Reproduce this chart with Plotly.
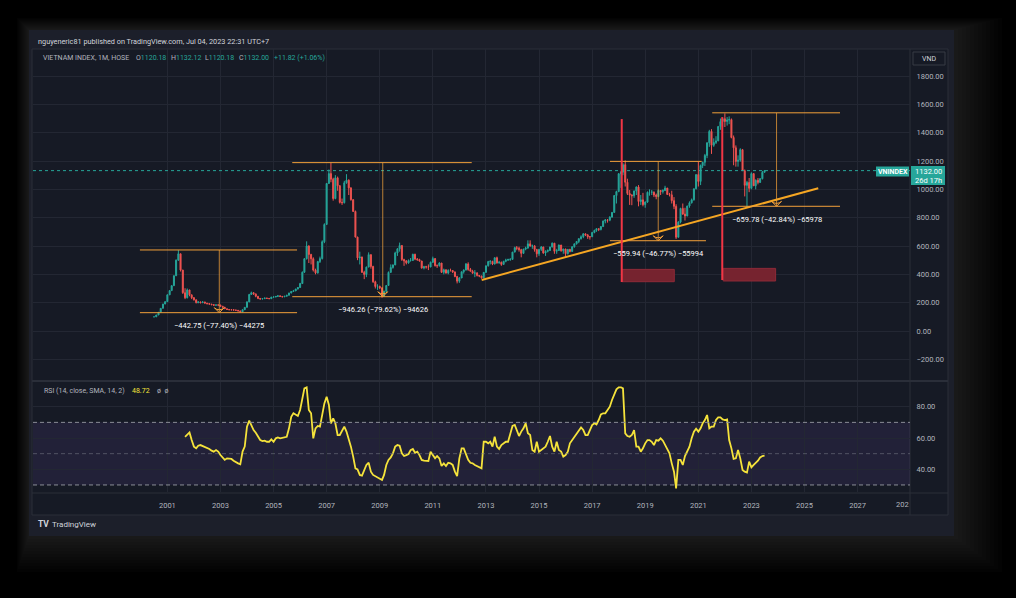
import plotly.graph_objects as go
import pandas as pd

# ---------------- DATA (monthly VN-Index, Jul 2000 .. Jul 2023) ----------------
FIRST_MONTH = "2000-07-01"
FIRST_OPEN = 100.0

CLOSE = [
    100, 113, 132, 160, 190, 207,                                         # 2000 (Jul-Dec)
    255, 285, 320, 390, 500, 545, 430, 270, 235, 290, 255, 235,           # 2001
    220, 200, 205, 200, 205, 197, 193, 190, 186, 182, 184, 183,           # 2002
    175, 168, 157, 152, 150, 150, 148, 146, 142, 135, 150, 167,           # 2003
    205, 258, 270, 262, 245, 230, 226, 228, 232, 230, 228, 239,           # 2004
    240, 244, 248, 244, 241, 245, 252, 268, 279, 283, 296, 307,           # 2005
    335, 415, 510, 600, 540, 510, 430, 410, 490, 511, 630, 752,           # 2006
    1041, 1111, 1071, 935, 1081, 1025, 908, 906, 1046, 1065, 1010, 927,   # 2007
    844, 663, 516, 522, 414, 399, 451, 539, 456, 347, 314, 315,           # 2008
    304, 245, 280, 321, 414, 448, 466, 551, 580, 603, 504, 495,           # 2009
    481, 497, 498, 542, 508, 504, 494, 445, 454, 452, 452, 485,           # 2010
    511, 461, 461, 480, 414, 432, 409, 428, 427, 417, 384, 352,           # 2011
    374, 418, 430, 473, 434, 422, 408, 410, 392, 388, 375, 414,           # 2012
    460, 490, 492, 473, 517, 481, 485, 470, 492, 500, 505, 505,           # 2013
    557, 588, 584, 574, 548, 578, 586, 615, 600, 601, 575, 545,           # 2014
    576, 593, 551, 562, 569, 593, 620, 563, 568, 607, 566, 579,           # 2015
    546, 576, 561, 595, 615, 632, 652, 665, 686, 677, 665, 665,           # 2016
    695, 710, 722, 717, 737, 776, 784, 782, 804, 837, 956, 984,           # 2017
    1110, 1121, 1174, 1050, 971, 960, 955, 989, 1017, 914, 926, 892,      # 2018
    910, 979, 980, 980, 960, 949, 992, 984, 991, 1009, 964, 961,          # 2019
    920, 880, 662, 769, 865, 825, 812, 882, 905, 926, 1004, 1104,         # 2020
    1056, 1168, 1191, 1239, 1329, 1409, 1311, 1331, 1342, 1444, 1478, 1498,  # 2021
    1479, 1490, 1492, 1366, 1293, 1197, 1206, 1280, 1132, 1028, 1049, 1007,  # 2022
    1111, 1025, 1064, 1049, 1075, 1120.18, 1132.00,                        # 2023 (Jan-Jul)
]
HIGH = [
    100, 114, 133, 161, 192, 210,
    258, 287, 322, 392, 505, 571, 545, 432, 302, 300, 290, 257,
    240, 222, 210, 208, 210, 206, 198, 194, 191, 188, 187, 187,
    185, 176, 169, 158, 155, 154, 152, 150, 148, 143, 152, 168,
    210, 262, 278, 275, 264, 247, 233, 232, 236, 235, 233, 241,
    244, 247, 252, 250, 246, 248, 255, 270, 282, 290, 298, 310,
    340, 420, 515, 633, 605, 545, 520, 440, 495, 525, 640, 760,
    1045, 1140, 1188, 1082, 1100, 1090, 1030, 935, 1060, 1107, 1070, 1015,
    930, 850, 665, 560, 525, 425, 455, 555, 540, 460, 355, 330,
    320, 310, 285, 325, 420, 470, 470, 560, 585, 624, 600, 510,
    500, 505, 515, 545, 545, 515, 510, 495, 460, 460, 470, 490,
    525, 515, 470, 485, 480, 440, 435, 435, 440, 430, 420, 390,
    380, 420, 435, 480, 485, 445, 432, 430, 415, 395, 390, 415,
    462, 495, 500, 495, 520, 525, 495, 490, 495, 510, 510, 515,
    558, 595, 600, 595, 580, 580, 595, 640, 640, 610, 605, 580,
    580, 600, 595, 570, 575, 595, 625, 620, 580, 610, 605, 580,
    580, 578, 580, 598, 618, 635, 655, 675, 690, 688, 685, 670,
    700, 715, 725, 725, 740, 780, 790, 790, 810, 840, 960, 990,
    1115, 1130, 1185, 1204, 1075, 995, 965, 990, 1020, 1030, 960, 975,
    915, 985, 1000, 995, 985, 970, 1000, 995, 1000, 1025, 1010, 975,
    990, 945, 895, 775, 870, 900, 870, 885, 915, 935, 1005, 1105,
    1196, 1175, 1195, 1250, 1330, 1420, 1425, 1360, 1375, 1445, 1500, 1505,
    1536, 1510, 1515, 1500, 1380, 1310, 1240, 1290, 1285, 1140, 1060, 1080,
    1120, 1110, 1070, 1080, 1080, 1130, 1132.12,
]
LOW = [
    100, 100, 113, 132, 160, 190,
    207, 255, 285, 320, 390, 495, 420, 262, 225, 230, 245, 225,
    215, 195, 196, 195, 197, 193, 188, 186, 182, 178, 180, 179,
    172, 165, 155, 148, 147, 146, 144, 143, 138, 131, 134, 149,
    166, 204, 255, 255, 238, 225, 222, 224, 227, 226, 225, 226,
    236, 238, 243, 240, 238, 240, 244, 251, 266, 277, 282, 294,
    305, 333, 410, 505, 480, 470, 420, 400, 405, 480, 505, 620,
    752, 1040, 1050, 920, 930, 990, 900, 890, 900, 1040, 960, 920,
    840, 660, 500, 470, 410, 366, 380, 450, 440, 340, 300, 290,
    296, 235, 242, 275, 320, 410, 440, 465, 530, 560, 495, 460,
    470, 475, 490, 495, 500, 495, 490, 440, 435, 440, 430, 450,
    480, 455, 445, 455, 410, 400, 405, 400, 420, 410, 380, 336,
    340, 374, 405, 428, 425, 420, 405, 380, 385, 380, 370, 375,
    410, 455, 470, 465, 470, 475, 475, 460, 468, 485, 495, 495,
    505, 555, 570, 560, 520, 545, 570, 580, 595, 580, 560, 520,
    530, 565, 545, 530, 555, 565, 590, 545, 545, 565, 560, 545,
    520, 540, 555, 560, 588, 610, 620, 645, 655, 670, 650, 645,
    665, 690, 700, 705, 710, 735, 760, 765, 775, 800, 835, 900,
    980, 1010, 1100, 1020, 960, 890, 888, 940, 960, 880, 890, 880,
    870, 905, 955, 960, 945, 930, 945, 960, 970, 990, 960, 950,
    900, 860, 649, 660, 760, 820, 780, 810, 870, 900, 920, 1000,
    1020, 1030, 1150, 1165, 1220, 1300, 1250, 1300, 1320, 1340, 1420, 1440,
    1440, 1450, 1460, 1360, 1170, 1160, 1160, 1195, 1130, 950, 873, 980,
    1000, 1025, 1000, 1035, 1045, 1070, 1120.18,
]
RSI_FIRST_INDEX = 14
RSI = [
    60.8, 62.0, 63.6, 58.7,
    54.5, 53.4, 55.1, 55.5, 54.9, 54.0, 53.4, 53.0, 51.9, 51.3, 52.3, 51.3,
    49.1, 47.6, 46.0, 47.0, 46.8, 46.6, 45.5, 44.9, 43.8, 43.2, 51.3, 54.5,
    67.3, 71.1, 68.3, 65.1, 63.4, 60.8, 58.7, 58.0, 58.3, 57.6, 57.6, 59.1,
    57.6, 59.8, 60.4, 59.8, 60.2, 60.4, 60.8, 66.2, 73.6, 75.8, 74.7, 74.1,
    77.9, 85.3, 91.7, 92.4, 77.9, 75.8, 59.8, 66.2, 67.7, 67.3, 75.8, 82.1,
    86.4, 81.1, 69.4, 72.6, 69.4, 61.9, 61.9, 65.1, 67.3, 64.1, 59.8, 54.5,
    48.1, 40.6, 40.0, 36.4, 36.0, 39.1, 42.8, 44.2, 38.5, 36.4, 35.7, 34.9,
    34.2, 33.2, 36.4, 42.8, 46.0, 47.6, 50.2, 54.5, 55.5, 55.1, 50.2, 48.5,
    49.1, 49.8, 52.3, 53.0, 50.6, 51.3, 49.1, 46.0, 45.5, 45.5, 45.3, 51.3,
    49.1, 47.0, 48.5, 47.0, 42.1, 43.8, 42.1, 44.2, 43.8, 42.8, 38.5, 35.7,
    47.0, 53.4, 53.4, 49.1, 46.0, 44.2, 43.8, 42.8, 42.1, 41.2, 40.6, 57.6,
    57.6, 56.6, 57.6, 54.5, 60.8, 54.5, 53.0, 55.5, 56.6, 57.6, 57.6, 63.0,
    67.7, 68.3, 64.7, 61.3, 64.1, 66.2, 69.4, 63.0, 61.9, 52.3, 51.3, 57.6,
    51.3, 52.3, 53.4, 54.5, 57.6, 61.3, 54.5, 51.3, 57.6, 52.3, 51.3, 48.1,
    49.1, 51.3, 56.6, 58.7, 60.8, 63.0, 65.1, 66.8, 65.1, 61.9, 61.9, 65.1,
    68.3, 69.4, 68.7, 71.5, 75.1, 75.8, 75.8, 77.9, 80.0, 84.3, 88.5, 91.1,
    92.4, 92.4, 91.7, 63.0, 61.3, 60.8, 61.9, 65.1, 54.5, 54.5, 51.3, 53.4,
    56.6, 58.7, 58.7, 57.6, 55.5, 58.7, 58.3, 59.8, 58.3, 55.5, 53.4, 50.2,
    43.8, 38.5, 27.8, 46.0, 46.0, 42.8, 48.5, 51.3, 54.5, 59.8, 64.1, 66.0,
    64.1, 66.2, 69.4, 71.5, 74.7, 66.2, 67.3, 67.3, 71.5, 73.2, 73.2, 71.9,
    71.5, 71.9, 58.7, 53.4, 46.6, 47.0, 52.3, 47.0, 39.6, 38.5, 37.9, 44.9,
    41.2, 42.8, 43.8, 45.5, 47.6, 48.5, 48.72,
]
LAST_PRICE = 1132.00
YEAR_TICKS = ["2001-01-01", "2003-01-01", "2005-01-01", "2007-01-01", "2009-01-01",
              "2011-01-01", "2013-01-01", "2015-01-01", "2017-01-01", "2019-01-01",
              "2021-01-01", "2023-01-01", "2025-01-01", "2027-01-01"]
YEAR_LABELS = ["2001", "2003", "2005", "2007", "2009", "2011", "2013", "2015", "2017",
               "2019", "2021", "2023", "2025", "2027"]

# Price-range drawings (time anchors / price anchors / label)
MEASURES = [
    dict(t0="1999-12-20", t1="2005-11-20", tv="2002-12-16", top=572.03, bottom=129.28,
         b1="2005-11-20", label="\u2212442.75 (\u221277.40%) \u221244275"),
    dict(t0="2005-09-15", t1="2012-06-19", tv="2009-02-11", top=1188.47, bottom=242.21,
         b1="2012-06-19", label="\u2212946.26 (\u221279.62%) \u221294626"),
    dict(t0="2017-09-03", t1="2021-02-16", tv="2019-06-29", top=1197.22, bottom=637.28,
         b1="2021-04-16", label="\u2212559.94 (\u221246.77%) \u221255994"),
    dict(t0="2021-07-11", t1="2026-05-04", tv="2023-12-13", top=1540.10, bottom=880.32,
         b1="2026-05-04", label="\u2212659.78 (\u221242.84%) \u221265978"),
]
TREND = dict(t0="2012-11-03", p0=360.0, t1="2025-07-09", p1=1007.3)
RED_LINES = [dict(t="2018-02-12", p0=346, p1=1496), dict(t="2021-11-26", p0=360, p1=1510)]
RED_BOXES = [dict(t0="2018-02-12", t1="2020-02-05", p0=348, p1=435),
             dict(t0="2021-12-09", t1="2023-11-30", p0=353, p1=442)]

# ---------------- FIGURE ----------------
dates = pd.date_range(FIRST_MONTH, periods=len(CLOSE), freq="MS")
OPEN = [FIRST_OPEN] + CLOSE[:-1]
rsi_dates = dates[RSI_FIRST_INDEX:]

W, H = 1016, 598
PL, PR, PT, PB = 33, 910, 49, 492   # plot area in pixels


def px(x):
    return (x - PL) / (PR - PL)


def py(y):
    return (PB - y) / (PB - PT)


FONT = "Roboto"
TEAL = "#26a69a"
RED = "#ef5350"
ORANGE = "#f2a03a"
GRID = "#232733"
TXT = "#b2b5be"

fig = go.Figure()
fig.add_trace(go.Candlestick(
    x=dates, open=OPEN, high=HIGH, low=LOW, close=CLOSE,
    increasing=dict(line=dict(color=TEAL, width=1), fillcolor=TEAL),
    decreasing=dict(line=dict(color=RED, width=1), fillcolor=RED),
    xaxis="x", yaxis="y", showlegend=False, hoverinfo="skip"))

fig.add_trace(go.Scatter(
    x=rsi_dates, y=RSI, mode="lines", line=dict(color="#f5e33b", width=1.8),
    xaxis="x2", yaxis="y2", showlegend=False, hoverinfo="skip"))

# trend line
fig.add_trace(go.Scatter(
    x=[TREND["t0"], TREND["t1"]], y=[TREND["p0"], TREND["p1"]], mode="lines",
    line=dict(color="#f5a623", width=2), xaxis="x", yaxis="y",
    showlegend=False, hoverinfo="skip"))

# arrow heads of measures
fig.add_trace(go.Scatter(
    x=[m["tv"] for m in MEASURES], y=[m["bottom"] for m in MEASURES], mode="markers",
    marker=dict(symbol="arrow-wide-open", angle=180, size=7,
                color=ORANGE, line=dict(color=ORANGE, width=1)),
    xaxis="x", yaxis="y", showlegend=False, hoverinfo="skip"))

shapes = []
# soft shadow glow around the card (stronger toward the right / bottom)
for k in range(1, 13):
    shapes.append(dict(type="rect", xref="paper", yref="paper", layer="below",
                       x0=px(29 - k), x1=px(954 + 4 * k), y0=py(30 - k), y1=py(536 + 3 * k),
                       fillcolor="rgba(110,110,110,0.022)", line=dict(width=0)))
# outer card and chart backgrounds
shapes.append(dict(type="rect", xref="paper", yref="paper", layer="below",
                   x0=px(29), x1=px(954), y0=py(30), y1=py(536),
                   fillcolor="#1c1f2a", line=dict(width=0)))
shapes.append(dict(type="rect", xref="paper", yref="paper", layer="below",
                   x0=px(32), x1=px(948), y0=py(49), y1=py(515),
                   fillcolor="#161a25", line=dict(color="#2a2e39", width=1)))
# pane separator
shapes.append(dict(type="line", xref="paper", yref="paper", layer="below",
                   x0=px(32), x1=px(948), y0=py(381), y1=py(381),
                   line=dict(color="#2a2e39", width=2)))
# price-axis separator
shapes.append(dict(type="line", xref="paper", yref="paper", layer="below",
                   x0=px(910), x1=px(910), y0=py(49), y1=py(515),
                   line=dict(color="#2a2e39", width=1)))
# time-axis separator
shapes.append(dict(type="line", xref="paper", yref="paper", layer="below",
                   x0=px(32), x1=px(948), y0=py(493), y1=py(493),
                   line=dict(color="#2a2e39", width=1)))
# RSI band and levels
shapes.append(dict(type="rect", xref="x2 domain", yref="y2", layer="below",
                   x0=0, x1=1, y0=30, y1=70,
                   fillcolor="rgba(126,87,194,0.12)", line=dict(width=0)))
for lvl, col in [(70, "#8a8d96"), (50, "rgba(120,123,134,0.55)"), (30, "#8a8d96")]:
    shapes.append(dict(type="line", xref="x2 domain", yref="y2", x0=0, x1=1, y0=lvl, y1=lvl,
                       line=dict(color=col, width=1, dash="4px,3px")))
# last price dotted line
shapes.append(dict(type="line", xref="x domain", yref="y", x0=0, x1=1,
                   y0=LAST_PRICE, y1=LAST_PRICE,
                   line=dict(color=TEAL, width=1, dash="dot")))
# measures
for m in MEASURES:
    shapes.append(dict(type="line", xref="x", yref="y", x0=m["t0"], x1=m["t1"],
                       y0=m["top"], y1=m["top"], line=dict(color=ORANGE, width=1)))
    shapes.append(dict(type="line", xref="x", yref="y", x0=m["t0"], x1=m["b1"],
                       y0=m["bottom"], y1=m["bottom"], line=dict(color=ORANGE, width=1)))
    shapes.append(dict(type="line", xref="x", yref="y", x0=m["tv"], x1=m["tv"],
                       y0=m["top"], y1=m["bottom"],
                       line=dict(color="rgba(242,160,58,0.75)", width=1)))
# red boxes and lines
for b in RED_BOXES:
    shapes.append(dict(type="rect", xref="x", yref="y", x0=b["t0"], x1=b["t1"],
                       y0=b["p0"], y1=b["p1"], fillcolor="#76232f",
                       line=dict(color="#8e2a38", width=1)))
for r in RED_LINES:
    shapes.append(dict(type="line", xref="x", yref="y", x0=r["t"], x1=r["t"],
                       y0=r["p0"], y1=r["p1"], line=dict(color="#f23645", width=2)))
# price label boxes
shapes.append(dict(type="rect", xref="paper", yref="paper",
                   x0=px(876), x1=px(909), y0=py(176.5), y1=py(166.5),
                   fillcolor=TEAL, line=dict(width=0)))
shapes.append(dict(type="rect", xref="paper", yref="paper",
                   x0=px(911), x1=px(945), y0=py(185), y1=py(166),
                   fillcolor=TEAL, line=dict(width=0)))
shapes.append(dict(type="rect", xref="paper", yref="paper",
                   x0=px(913), x1=px(945), y0=py(65), y1=py(52),
                   fillcolor="rgba(0,0,0,0)", line=dict(color="#363a45", width=1)))

ann = []


def text(x, y, s, size=7.5, color=TXT, xanchor="left", yanchor="middle", **kw):
    ann.append(dict(xref="paper", yref="paper", x=px(x), y=py(y), text=s, showarrow=False,
                    xanchor=xanchor, yanchor=yanchor,
                    font=dict(family=FONT, size=size, color=color), **kw))


text(36, 41, "nguyeneric81 published on TradingView.com, Jul 04, 2023 22:31 UTC+7",
     size=7.3, color="#d1d4dc")
text(41, 57.5, "VIETNAM INDEX, 1M, HOSE", size=7, color=TXT)
for xx, k, v in [(134, "O", "1120.18"), (169, "H", "1132.12"), (203, "L", "1120.18"),
                 (237, "C", "1132.00")]:
    text(xx, 57.5, f"<span style='color:{TXT}'>{k}</span>{v}", size=7, color=TEAL)
text(272, 57.5, "+11.82 (+1.06%)", size=7, color=TEAL)
text(42, 391, "RSI (14, close, SMA, 14, 2)", size=7, color=TXT)
text(130, 391, "48.72", size=7, color="#f5e33b")
text(155, 391, "\u00f8  \u00f8", size=7, color=TXT)
text(929, 58.5, "VND", size=7, color="#d1d4dc", xanchor="center")
text(892.5, 171.5, "<b>VNINDEX</b>", size=7, color="#ffffff", xanchor="center")
text(928, 171, "1132.00", size=7.5, color="#ffffff", xanchor="center")
text(928, 180, "26d 17h", size=7.5, color="#ffffff", xanchor="center")
text(911, 504, "202", size=7.5, color=TXT, xanchor="right")
text(36, 524, "<b>TV</b>", size=8.5, color="#d1d4dc")
text(50, 524, "TradingView", size=8, color="#d1d4dc")

for m in MEASURES:
    ann.append(dict(xref="x", yref="y", x=m["tv"], y=m["bottom"], yshift=-13,
                    text=m["label"], showarrow=False, xanchor="center", yanchor="middle",
                    font=dict(family=FONT, size=7.5, color="#ffffff")))

X_RANGE = ["1995-12-10", "2028-12-22"]
axis_common = dict(showgrid=True, gridcolor=GRID, gridwidth=1, zeroline=False,
                   showline=False, tickfont=dict(family=FONT, size=7.5, color=TXT))

fig.update_layout(
    width=W, height=H,
    margin=dict(l=PL, r=W - PR, t=PT, b=H - PB),
    paper_bgcolor="#000000", plot_bgcolor="rgba(0,0,0,0)",
    shapes=shapes, annotations=ann, showlegend=False,
    xaxis=dict(**axis_common, domain=[0, 1], anchor="y", range=X_RANGE, type="date",
               tickvals=YEAR_TICKS, ticktext=YEAR_LABELS, showticklabels=False,
               rangeslider=dict(visible=False), matches="x2"),
    xaxis2=dict(**axis_common, domain=[0, 1], anchor="y2", range=X_RANGE, type="date",
                tickvals=YEAR_TICKS, ticktext=YEAR_LABELS, ticks="outside",
                ticklen=6, tickcolor="rgba(0,0,0,0)"),
    yaxis=dict(**axis_common, domain=[py(380), 1], anchor="x", side="right",
               range=[-345.9, 1990.6], tick0=0, dtick=200, tickformat=".2f",
               ticks="outside", ticklen=4, tickcolor="rgba(0,0,0,0)"),
    yaxis2=dict(**axis_common, domain=[0, py(382)], anchor="x2", side="right",
                range=[25.5, 95.8], tickvals=[40, 60, 80], tickformat=".2f",
                ticks="outside", ticklen=4, tickcolor="rgba(0,0,0,0)"),
)

fig.write_html("out.html", config={"displayModeBar": False},
               post_script="document.body.style.margin='0';"
                           "document.body.style.overflow='hidden';")
